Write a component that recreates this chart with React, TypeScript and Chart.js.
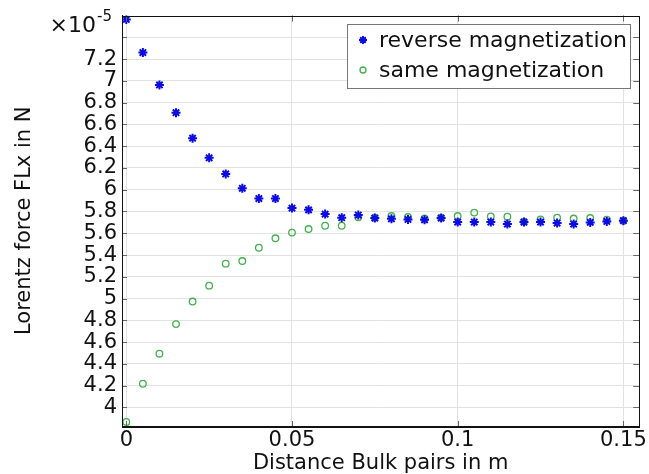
import React, { useEffect, useRef } from "react";
import { Chart, registerables } from "chart.js";

Chart.register(...registerables);

// Distance between bulk pairs (m)
const distance = [
  0, 0.005, 0.01, 0.015, 0.02, 0.025, 0.03, 0.035, 0.04, 0.045, 0.05, 0.055, 0.06, 0.065, 0.07, 0.075,
  0.08, 0.085, 0.09, 0.095, 0.1, 0.105, 0.11, 0.115, 0.12, 0.125, 0.13, 0.135, 0.14, 0.145, 0.15,
];

// Lorentz force FLx, in units of 1e-5 N
const reverseMagnetization = [
  7.564, 7.26, 6.962, 6.707, 6.473, 6.293, 6.145, 6.013, 5.919, 5.919, 5.831, 5.815, 5.776, 5.743, 5.767, 5.74,
  5.733, 5.727, 5.724, 5.74, 5.703, 5.703, 5.703, 5.685, 5.703, 5.703, 5.694, 5.685, 5.7, 5.709, 5.716,
];

const sameMagnetization = [
  3.867, 4.218, 4.494, 4.766, 4.973, 5.119, 5.321, 5.345, 5.467, 5.554, 5.606, 5.639, 5.669, 5.669, 5.746, 5.742,
  5.758, 5.749, 5.735, 5.742, 5.758, 5.79, 5.755, 5.752, 5.706, 5.728, 5.743, 5.735, 5.74, 5.724, 5.716,
];

const seriesLabels = ["reverse magnetization", "same magnetization"];
const yTickValues = [4.0, 4.2, 4.4, 4.6, 4.8, 5.0, 5.2, 5.4, 5.6, 5.8, 6.0, 6.2, 6.4, 6.6, 6.8, 7.0, 7.2, 7.4];
const yHiddenLabel = 7.4;
const xTickValues = [0, 0.05, 0.1, 0.15];
const xTitle = "Distance Bulk pairs in m";
const yTitle = "Lorentz force FLx in N";
const exponentBase = "\u00d710";
const exponentPower = "-5";

const FONT = "'DejaVu Sans', 'Liberation Sans', sans-serif";
const BLUE = "rgb(12,12,225)";
const GREEN = "rgb(70,175,80)";
const GRID = "rgb(226,226,226)";

const framePlugin = {
  id: "framePlugin",
  afterDatasetsDraw(chart: any) {
    const { ctx, chartArea } = chart;
    const { left, right, top, bottom } = chartArea;
    ctx.save();
    ctx.strokeStyle = "#666";
    ctx.lineWidth = 1;
    const ys = chart.scales.y;
    const xs = chart.scales.x;
    ctx.beginPath();
    for (const v of yTickValues) {
      const p = Math.round(ys.getPixelForValue(v)) + 0.5;
      ctx.moveTo(left, p);
      ctx.lineTo(left + 5, p);
      ctx.moveTo(right, p);
      ctx.lineTo(right - 6, p);
    }
    for (const v of xTickValues) {
      const p = Math.round(xs.getPixelForValue(v)) + 0.5;
      ctx.moveTo(p, bottom);
      ctx.lineTo(p, bottom - 5);
      ctx.moveTo(p, top);
      ctx.lineTo(p, top + 6);
    }
    ctx.stroke();
    ctx.strokeStyle = "#111";
    ctx.strokeRect(Math.round(left) + 0.5, Math.round(top) + 0.5, Math.round(right - left), Math.round(bottom - top));
    ctx.restore();
  },
  afterDraw(chart: any) {
    const { ctx } = chart;
    ctx.save();
    // exponent
    ctx.fillStyle = "#111";
    ctx.textBaseline = "alphabetic";
    ctx.font = `22px ${FONT}`;
    ctx.textAlign = "right";
    ctx.fillText(exponentBase, 96, 32);
    ctx.font = `15px ${FONT}`;
    ctx.textAlign = "left";
    ctx.fillText(exponentPower, 97, 21);

    // legend
    const bx = 347.5, by = 24.5, bw = 283, bh = 64;
    ctx.fillStyle = "#fff";
    ctx.fillRect(bx, by, bw, bh);
    ctx.strokeStyle = "#777";
    ctx.lineWidth = 1;
    ctx.strokeRect(bx, by, bw, bh);
    const rows = [40, 70];
    ctx.font = `22px ${FONT}`;
    ctx.textBaseline = "middle";
    ctx.textAlign = "left";
    chart.data.datasets.forEach((ds: any, i: number) => {
      const cy = rows[i];
      const cx = 363;
      ctx.strokeStyle = ds.borderColor;
      if (ds.pointStyle === "star") {
        ctx.lineWidth = 2;
        const r = 4;
        ctx.beginPath();
        for (let k = 0; k < 4; k++) {
          const a = (k * Math.PI) / 4;
          ctx.moveTo(cx - r * Math.cos(a), cy - r * Math.sin(a));
          ctx.lineTo(cx + r * Math.cos(a), cy + r * Math.sin(a));
        }
        ctx.stroke();
      } else {
        ctx.lineWidth = 1.3;
        ctx.beginPath();
        ctx.arc(cx, cy, 3, 0, Math.PI * 2);
        ctx.stroke();
      }
      ctx.fillStyle = "#111";
      ctx.fillText(ds.label, 379, cy + 1);
    });
    ctx.restore();
  },
};

export default function App() {
  const canvasRef = useRef<HTMLCanvasElement | null>(null);

  useEffect(() => {
    const canvas = canvasRef.current;
    if (!canvas) return;
    const toPoints = (ys: number[]) => distance.map((x, i) => ({ x, y: ys[i] }));
    const chart = new Chart(canvas, {
      type: "scatter",
      data: {
        datasets: [
          {
            label: seriesLabels[0],
            data: toPoints(reverseMagnetization),
            pointStyle: "star",
            pointRadius: 4.5,
            pointBorderWidth: 2,
            borderColor: BLUE,
            backgroundColor: BLUE,
            showLine: false,
          },
          {
            label: seriesLabels[1],
            data: toPoints(sameMagnetization),
            pointStyle: "circle",
            pointRadius: 3.3,
            pointBorderWidth: 1.3,
            borderColor: GREEN,
            backgroundColor: "rgba(0,0,0,0)",
            showLine: false,
          },
        ],
      },
      options: {
        responsive: false,
        animation: false,
        devicePixelRatio: 1,
        layout: { padding: { left: 0, top: 13, right: 8, bottom: 0 } },
        plugins: { legend: { display: false }, tooltip: { enabled: false } },
        scales: {
          x: {
            type: "linear",
            min: -0.0013,
            max: 0.1548,
            afterBuildTicks: (scale: any) => {
              scale.ticks = xTickValues.map((v) => ({ value: v }));
            },
            afterFit: (scale: any) => {
              scale.height = 48;
            },
            ticks: {
              autoSkip: false,
              maxRotation: 0,
              padding: 2,
              color: "#111",
              font: { family: FONT, size: 21 },
              callback: (v: any) => String(Number(Number(v).toFixed(3))),
            },
            grid: { color: GRID, drawTicks: false },
            border: { color: "#111", width: 1 },
            title: {
              display: true,
              text: xTitle,
              color: "#111",
              font: { family: FONT, size: 21, lineHeight: 1 },
              padding: { top: 0, bottom: 0 },
            },
          },
          y: {
            type: "linear",
            min: 3.83,
            max: 7.6,
            afterBuildTicks: (scale: any) => {
              scale.ticks = yTickValues.map((v) => ({ value: v }));
            },
            afterFit: (scale: any) => {
              scale.width = 122;
            },
            ticks: {
              autoSkip: false,
              padding: 5,
              color: "#111",
              font: { family: FONT, size: 21, lineHeight: 1 },
              callback: (v: any) =>
                Math.abs(Number(v) - yHiddenLabel) < 1e-6 ? "" : String(Number(Number(v).toFixed(1))),
            },
            grid: { color: GRID, drawTicks: false },
            border: { color: "#111", width: 1 },
            title: {
              display: true,
              text: yTitle,
              color: "#111",
              font: { family: FONT, size: 21, lineHeight: 1 },
              padding: { top: 14.5, bottom: 0 },
            },
          },
        },
      },
      plugins: [framePlugin],
    });
    return () => chart.destroy();
  }, []);

  return (
    <div style={{ position: "absolute", left: 0, top: 0, width: 649, height: 474, background: "#fff" }}>
      <canvas ref={canvasRef} width={649} height={474} style={{ display: "block" }} />
    </div>
  );
}
